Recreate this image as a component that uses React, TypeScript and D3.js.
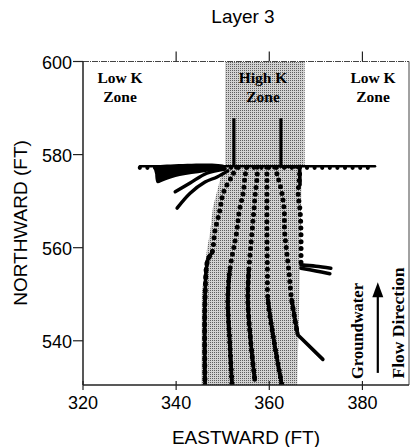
import React from 'react';
import * as d3 from 'd3';

type Pt = [number, number];

const xTicks = [320, 340, 360, 380];
const yTicks = [540, 560, 580, 600];

// shaded high K zone (eastward ft, northward ft)
const highKZone: Pt[] = [
  [350.5, 600], [367.6, 600], [367.6, 577.5], [367.0, 577.3], [366.6, 556],
  [366.0, 530.5], [345.4, 530.5], [345.5, 550], [346.6, 559.5], [347.3, 563.4],
  [347.9, 568.7], [349.8, 576], [350.5, 577.5],
];

// boundary between layers / zones
const boundary: Pt[] = [[332.2, 577.5], [382.7, 577.5]];

// two vertical well screens inside the high K zone
const wells: Pt[][] = [
  [[352.4, 587.8], [352.4, 577.5]],
  [[362.5, 587.8], [362.5, 577.5], [366.6, 577.3]],
];

// particle pathlines, dense = index where the markers get tight
const pathlines: { pts: Pt[]; dense: number }[] = [
  { pts: [[353.0, 577.3], [352.0, 575.4], [350.1, 571.7], [349.4, 568.1], [348.3, 563.4], [347.7, 558.9], [346.8, 557.4], [346.2, 548.8], [346.2, 530.5]], dense: 5 },
  { pts: [[355.2, 577.3], [354.8, 575.4], [354.4, 571.7], [353.6, 568.1], [353.0, 563.4], [351.5, 555], [351.1, 548.8], [351.5, 540], [352.0, 530.5]], dense: 5 },
  { pts: [[357.4, 577.3], [357.4, 575.4], [357.0, 571.7], [356.7, 568.1], [356.3, 563.4], [355.6, 555], [355.4, 548.8], [356.0, 540], [356.9, 531.5]], dense: 5 },
  { pts: [[359.5, 577.3], [359.5, 575.4], [359.5, 571.7], [359.5, 563.4], [359.6, 555], [359.7, 548.8], [361.0, 540], [362.7, 530.5]], dense: 5 },
  { pts: [[361.2, 577.3], [361.8, 575.4], [362.7, 571.7], [363.2, 568], [363.3, 563.4], [364.2, 555], [364.8, 548.8], [366.1, 541.3]], dense: 6 },
  { pts: [[366.5, 577.3], [366.5, 575.4], [366.2, 571.7], [366.6, 568], [366.8, 563.4], [366.8, 556.0]], dense: 5 },
];

// solid pathline tails leaving the high K zone
const tails: Pt[][] = [
  [[366.1, 541.3], [371.5, 536.0]],
  [[366.8, 556.3], [370, 556.0], [373.2, 555.6]],
  [[366.8, 555.6], [370, 555.0], [373.0, 554.4]],
  [[366.5, 577.3], [366.6, 573.5]],
];

// pathlines turning west along the boundary
const westBundle: Pt[] = [
  [335.0, 577.7], [350.5, 577.7], [350.5, 577.0], [346.0, 576.2], [340.8, 575.4],
  [337.5, 574.4], [335.9, 573.9], [335.5, 575.8],
];
const westCurves: Pt[][] = [
  [[339.8, 572.0], [343.0, 573.9], [346.6, 576.0], [350.5, 576.9]],
  [[340.2, 568.5], [343.0, 571.7], [346.2, 574.1], [348.8, 575.2], [351.1, 576.5]],
];

// groundwater flow direction arrow
const flowArrow: Pt[] = [[383.3, 533.1], [383.3, 550.5]];
const arrowTip: Pt = [383.3, 552.6];

const W = 411;
const H = 447;

export default function App() {
  const x = d3.scaleLinear().domain([320, 390]).range([83, 409]);
  const y = d3.scaleLinear().domain([530.5, 600]).range([385, 61.5]);

  const line = d3.line<Pt>().x(d => x(d[0])).y(d => y(d[1]));
  const smooth = d3.line<Pt>().x(d => x(d[0])).y(d => y(d[1])).curve(d3.curveCatmullRom);

  const axisFont = '"Liberation Sans", Arial, sans-serif';
  const serif = '"Liberation Serif", "Times New Roman", serif';

  const zoneLabels = [
    { cx: 120, lines: ['Low K', 'Zone'] },
    { cx: 263, lines: ['High K', 'Zone'] },
    { cx: 373, lines: ['Low K', 'Zone'] },
  ];

  const tx = x(arrowTip[0]);
  const ty = y(arrowTip[1]);

  return (
    <svg width={W} height={H} style={{ display: 'block' }}>
      <style>{'body{margin:0}'}</style>
      <defs>
        <pattern id="halftone" width="2" height="2" patternUnits="userSpaceOnUse">
          <rect width="2" height="2" fill="#d2d2d2" />
          <rect width="1" height="1" fill="#5e5e5e" />
        </pattern>
        <clipPath id="plot">
          <rect x={x(320)} y={y(600)} width={x(390) - x(320)} height={y(530.5) - y(600)} />
        </clipPath>
      </defs>

      <rect width={W} height={H} fill="#fff" />

      {/* title */}
      <text x={243} y={23} textAnchor="middle" fontFamily={axisFont} fontSize={19}>Layer 3</text>

      <g clipPath="url(#plot)">
        <path d={line(highKZone) + 'Z'} fill="url(#halftone)" />

        {/* west-turning pathlines */}
        <path d={smooth(westBundle) + 'Z'} fill="#000" />
        {westCurves.map((c, i) => (
          <path key={'w' + i} d={smooth(c) || ''} fill="none" stroke="#000" strokeWidth={3.4} strokeLinecap="round" />
        ))}

        {/* boundary line with scalloped markers */}
        <path d={line(boundary) || ''} stroke="#000" strokeWidth={2.6} fill="none" strokeLinecap="round" />
        <path d={line(boundary) || ''} transform="translate(0,1.6)" stroke="#000" strokeWidth={4.2} fill="none"
          strokeLinecap="round" strokeDasharray="0 7.6" />

        {wells.map((w, i) => (
          <path key={'well' + i} d={line(w) || ''} stroke="#000" strokeWidth={3.2} fill="none" />
        ))}

        {pathlines.map((p, i) => (
          <g key={'p' + i}>
            <path d={smooth(p.pts) || ''} fill="none" stroke="#000" strokeWidth={5}
              strokeLinecap="round" strokeDasharray="0 6.8" />
            <path d={smooth(p.pts.slice(p.dense)) || ''} fill="none" stroke="#000" strokeWidth={3} />
            <path d={smooth(p.pts.slice(p.dense)) || ''} fill="none" stroke="#000" strokeWidth={4.4}
              strokeLinecap="round" strokeDasharray="0 3.4" />
          </g>
        ))}

        {tails.map((t, i) => (
          <path key={'t' + i} d={smooth(t) || ''} fill="none" stroke="#000" strokeWidth={3.6} strokeLinecap="round" />
        ))}
      </g>

      {/* frame */}
      <line x1={x(320)} x2={x(390)} y1={y(600)} y2={y(600)} stroke="#444" strokeWidth={1} strokeDasharray="6 1 1 1" />
      <line x1={x(390)} x2={x(390)} y1={y(600)} y2={y(530.5)} stroke="#444" strokeWidth={1} />
      <line x1={x(320)} x2={x(390)} y1={y(530.5)} y2={y(530.5)} stroke="#222" strokeWidth={1.3} />
      <line x1={x(320)} x2={x(320)} y1={y(600)} y2={y(530.5)} stroke="#111" strokeWidth={1.4} />

      {/* x ticks */}
      {xTicks.map(t => (
        <g key={'xt' + t}>
          {t > 320 && <line x1={x(t)} x2={x(t)} y1={y(600) - 10} y2={y(600)} stroke="#222" strokeWidth={1.2} />}
          <line x1={x(t)} x2={x(t)} y1={y(530.5) - 4} y2={y(530.5) + 5} stroke="#222" strokeWidth={1.2} />
          <text x={x(t)} y={409} textAnchor="middle" fontFamily={axisFont} fontSize={18}>{t}</text>
        </g>
      ))}

      {/* y ticks */}
      {yTicks.map(t => (
        <g key={'yt' + t}>
          <line x1={x(320) - 10} x2={x(320)} y1={y(t)} y2={y(t)} stroke="#222" strokeWidth={1.2} />
          <text x={72} y={y(t)} dy="0.42em" textAnchor="end" fontFamily={axisFont} fontSize={18}>{t}</text>
        </g>
      ))}

      <text x={246} y={444} textAnchor="middle" fontFamily={axisFont} fontSize={19}>EASTWARD (FT)</text>
      <text transform="translate(27,223) rotate(-90)" textAnchor="middle" fontFamily={axisFont} fontSize={19}>NORTHWARD (FT)</text>

      {/* zone labels */}
      {zoneLabels.map((z, i) => (
        <g key={'z' + i} fontFamily={serif} fontWeight="bold" fontSize={15.5} textAnchor="middle">
          <text x={z.cx} y={83}>{z.lines[0]}</text>
          <text x={z.cx} y={102}>{z.lines[1]}</text>
        </g>
      ))}

      {/* flow direction annotation */}
      <path d={line(flowArrow) || ''} stroke="#000" strokeWidth={2.2} />
      <path d={`M${tx},${ty}L${tx - 5.5},${ty + 15}L${tx + 5.5},${ty + 15}Z`} fill="#000" />
      <text transform="translate(363,331) rotate(-90)" textAnchor="middle" fontFamily={serif} fontWeight="bold" fontSize={16.5}>Groundwater</text>
      <text transform="translate(404,323) rotate(-90)" textAnchor="middle" fontFamily={serif} fontWeight="bold" fontSize={17.5}>Flow Direction</text>
    </svg>
  );
}
